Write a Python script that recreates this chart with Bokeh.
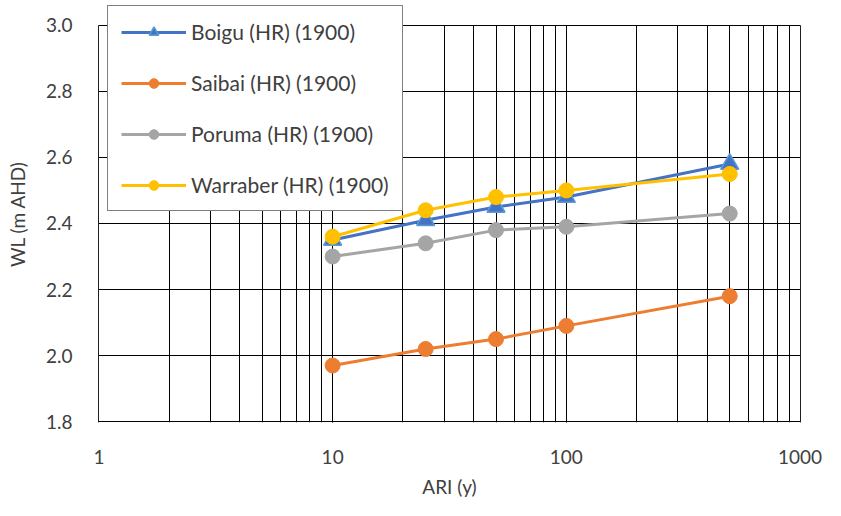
from bokeh.plotting import figure
from bokeh.models import (Legend, LegendItem, LogTicker, NumeralTickFormatter,
                          FixedTicker, PrintfTickFormatter, Range1d)
from bokeh.embed import file_html
from bokeh.resources import INLINE

ari = [10, 25, 50, 100, 500]
boigu = [2.35, 2.41, 2.45, 2.48, 2.58]
saibai = [1.97, 2.02, 2.05, 2.09, 2.18]
poruma = [2.30, 2.34, 2.38, 2.39, 2.43]
warraber = [2.36, 2.44, 2.48, 2.50, 2.55]
y_ticks = [1.8, 2.0, 2.2, 2.4, 2.6, 2.8, 3.0]
names = ["Boigu (HR) (1900)", "Saibai (HR) (1900)", "Poruma (HR) (1900)", "Warraber (HR) (1900)"]

Y_MIN, Y_MAX = 1.8, 3.0
X_MIN, X_MAX = 1, 1000
Y_HEADROOM = 0.06   # blank space above 3.0 so the legend can rise above the grid

FONT = "Lato"
TXT = "#404040"

p = figure(width=825, height=500, x_axis_type="log", output_backend="svg",
           toolbar_location=None, x_range=Range1d(X_MIN * 0.996, X_MAX * 1.004),
           y_range=Range1d(Y_MIN - 0.0025, Y_MAX + Y_HEADROOM),
           min_border_left=98, min_border_right=25, min_border_top=5, min_border_bottom=74)
p.background_fill_color = "white"
p.border_fill_color = "white"
p.outline_line_color = None

p.xaxis.ticker = LogTicker(num_minor_ticks=10)
p.xaxis.formatter = NumeralTickFormatter(format="0")
p.yaxis.ticker = FixedTicker(ticks=y_ticks)
p.yaxis.formatter = PrintfTickFormatter(format="%.1f")

for ax in (p.xaxis[0], p.yaxis[0]):
    ax.axis_line_color = None
    ax.major_tick_line_color = None
    ax.minor_tick_line_color = None
    ax.major_label_text_font = FONT
    ax.major_label_text_font_size = "19px"
    ax.major_label_text_color = TXT
    ax.axis_label_text_font = FONT
    ax.axis_label_text_font_size = "19px"
    ax.axis_label_text_font_style = "normal"
    ax.axis_label_text_color = TXT

p.xaxis.axis_label = "ARI (y)"
p.yaxis.axis_label = "WL (m AHD)"
p.xaxis.major_label_standoff = 21
p.xaxis.axis_label_standoff = 8
p.yaxis.major_label_standoff = 20
p.yaxis.axis_label_standoff = 14

xg = p.xgrid[0]
xg.grid_line_color = "black"
xg.grid_line_width = 1
xg.minor_grid_line_color = "black"
xg.minor_grid_line_width = 1
p.ygrid.grid_line_color = "black"
p.ygrid.grid_line_width = 1

if "cross_bounds" in xg.properties():
    xg.cross_bounds = (Y_MIN - 0.0025, Y_MAX)
else:
    # white mask over the headroom strip above 3.0 (keeps the grid ending at 3.0)
    p.quad(left=X_MIN * 0.5, right=X_MAX * 2, bottom=Y_MAX + 0.004, top=Y_MAX + 1.0,
           fill_color="white", line_color="white", line_width=2)

items = []
l1 = p.line(ari, boigu, line_color="#4472C4", line_width=3)
m1 = p.scatter(ari, boigu, marker="triangle", size=18, fill_color="#4472C4", line_color="#5B9BD5", line_width=1.5)
items.append(LegendItem(label=names[0], renderers=[l1, m1]))

l2 = p.line(ari, saibai, line_color="#ED7D31", line_width=3)
m2 = p.scatter(ari, saibai, marker="circle", size=15, fill_color="#ED7D31", line_color="#ED7D31")
items.append(LegendItem(label=names[1], renderers=[l2, m2]))

l3 = p.line(ari, poruma, line_color="#A5A5A5", line_width=3)
m3 = p.scatter(ari, poruma, marker="circle", size=15, fill_color="#A5A5A5", line_color="#A5A5A5")
items.append(LegendItem(label=names[2], renderers=[l3, m3]))

l4 = p.line(ari, warraber, line_color="#FFC000", line_width=3)
m4 = p.scatter(ari, warraber, marker="circle", size=15, fill_color="#FFC000", line_color="#FFC000")
items.append(LegendItem(label=names[3], renderers=[l4, m4]))

legend = Legend(items=items, location=(9, 211), orientation="vertical")
legend.border_line_color = "black"
legend.border_line_width = 1
legend.background_fill_color = "white"
legend.background_fill_alpha = 1
legend.padding = 13
legend.spacing = 26
legend.margin = 0
legend.glyph_width = 65
legend.glyph_height = 24
legend.label_height = 24
legend.label_standoff = 5
legend.label_text_font = FONT
legend.label_text_font_size = "21px"
legend.label_text_color = TXT
legend.label_text_baseline = "middle"
p.add_layout(legend, "center")

open("out.html", "w").write(file_html(p, INLINE))
